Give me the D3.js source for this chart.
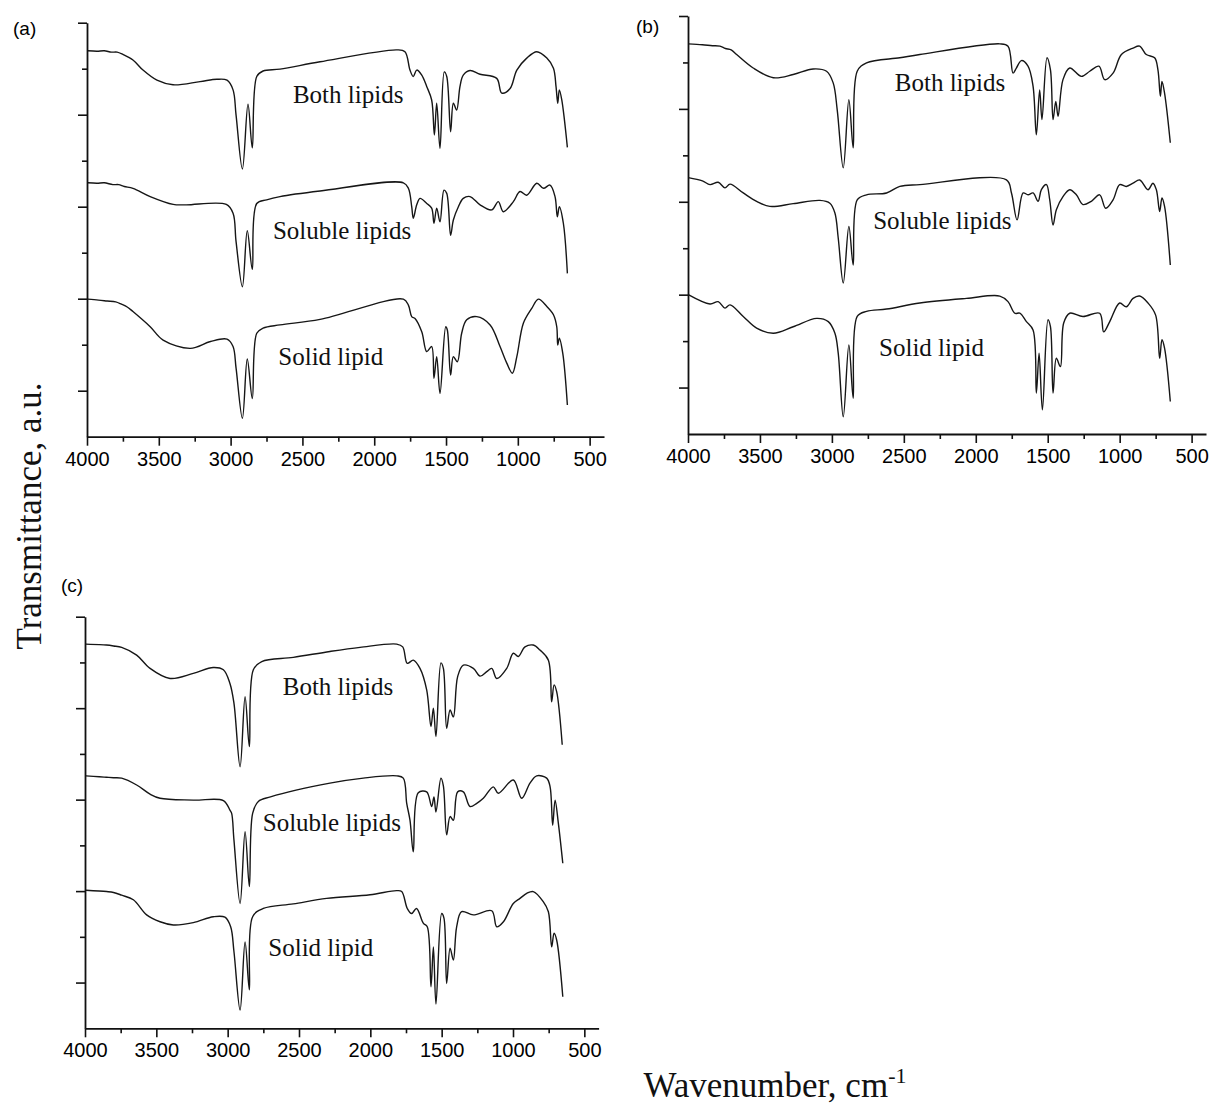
<!DOCTYPE html>
<html>
<head>
<meta charset="utf-8">
<script src="https://cdn.jsdelivr.net/npm/d3@7"></script>
<style>
  body { margin: 0; background: #fff; }
  svg { display: block; }
</style>
</head>
<body>
<div id="chart"></div>
<script>
// FTIR spectra, [wavenumber cm-1, transmittance a.u.]
// (a)
const aBoth = [[3995,8.39],[3930,8.38],[3880,8.39],[3830,8.36],[3790,8.36],[3750,8.31],[3680,8.19],[3610,7.97],[3513,7.75],[3401,7.65],[3213,7.72],[3095,7.77],[3025,7.75],[2983,7.54],[2962,6.99],[2918,5.82],[2879,7.23],[2849,6.28],[2818,7.83],[2774,7.95],[2656,7.99],[2377,8.15],[1843,8.41],[1786,8.37],[1751,7.97],[1728,7.83],[1704,7.97],[1669,7.86],[1634,7.61],[1600,7.32],[1581,6.56],[1565,7.25],[1542,6.27],[1512,7.93],[1495,7.83],[1468,6.63],[1449,7.25],[1426,7.10],[1403,7.61],[1380,7.86],[1333,7.96],[1263,7.88],[1147,7.79],[1112,7.47],[1054,7.57],[1007,7.97],[938,8.23],[868,8.37],[798,8.23],[752,8.01],[734,7.61],[722,7.25],[711,7.54],[694,7.32],[655,6.29]];
const aSoluble = [[3995,5.52],[3930,5.51],[3880,5.52],[3820,5.48],[3780,5.48],[3740,5.44],[3680,5.40],[3560,5.22],[3400,5.05],[3310,5.04],[3030,5.05],[2983,4.86],[2962,4.24],[2918,3.26],[2884,4.48],[2849,3.64],[2818,5.07],[2749,5.15],[2656,5.22],[2377,5.34],[1797,5.52],[1762,5.40],[1739,5.00],[1728,4.75],[1704,5.04],[1681,5.18],[1634,5.07],[1600,4.97],[1584,4.64],[1565,4.97],[1542,4.67],[1514,5.36],[1495,5.29],[1468,4.38],[1449,4.71],[1414,5.00],[1380,5.18],[1333,5.22],[1263,5.04],[1182,4.93],[1136,5.11],[1101,4.89],[1031,5.11],[985,5.33],[938,5.25],[868,5.51],[822,5.40],[776,5.47],[741,5.22],[725,4.78],[711,5.00],[683,4.64],[655,3.55]];
const aSolid = [[3995,2.99],[3920,2.97],[3860,2.95],[3800,2.93],[3760,2.88],[3720,2.82],[3680,2.72],[3560,2.39],[3470,2.10],[3280,1.92],[3140,2.07],[3025,2.12],[2983,1.96],[2962,1.49],[2918,0.40],[2884,1.69],[2849,0.83],[2818,2.25],[2774,2.36],[2656,2.43],[2377,2.55],[1797,2.99],[1762,2.86],[1739,2.61],[1716,2.57],[1669,2.28],[1634,1.85],[1600,1.96],[1584,1.27],[1565,1.74],[1542,0.94],[1502,2.39],[1491,2.32],[1468,1.34],[1449,1.74],[1421,1.63],[1391,2.25],[1356,2.54],[1286,2.61],[1193,2.43],[1124,1.96],[1077,1.60],[1038,1.38],[1007,1.74],[961,2.47],[903,2.79],[857,2.99],[798,2.83],[752,2.65],[729,2.39],[722,1.99],[711,2.14],[687,1.81],[655,0.69]];
// (b)
const bBoth = [[3998,8.40],[3900,8.38],[3830,8.36],[3778,8.35],[3740,8.30],[3700,8.27],[3662,8.17],[3547,7.88],[3407,7.67],[3269,7.74],[3130,7.86],[3037,7.81],[2991,7.56],[2963,6.98],[2921,5.73],[2882,7.20],[2852,6.16],[2824,7.81],[2759,7.99],[2528,8.10],[2389,8.17],[1833,8.40],[1776,8.35],[1741,7.77],[1718,7.88],[1683,8.04],[1637,7.92],[1602,7.49],[1579,6.44],[1556,7.41],[1540,6.77],[1505,8.10],[1481,7.84],[1463,6.77],[1444,7.16],[1428,6.84],[1394,7.63],[1347,7.88],[1266,7.70],[1208,7.81],[1144,7.92],[1104,7.63],[1046,7.77],[988,8.17],[907,8.31],[861,8.35],[815,8.17],[757,8.10],[734,7.84],[717,7.27],[706,7.59],[688,7.34],[648,6.27]];
const bSoluble = [[3998,5.52],[3900,5.45],[3847,5.37],[3790,5.42],[3743,5.30],[3708,5.38],[3616,5.19],[3523,5.01],[3431,4.90],[3269,4.96],[3083,5.03],[3014,4.97],[2979,4.76],[2956,4.22],[2921,3.25],[2882,4.47],[2852,3.64],[2824,5.04],[2759,5.15],[2620,5.19],[2528,5.33],[2389,5.37],[1787,5.47],[1752,5.19],[1713,4.61],[1671,5.19],[1637,5.15],[1602,5.19],[1567,5.01],[1544,5.26],[1509,5.37],[1486,5.04],[1463,4.50],[1440,4.83],[1394,5.11],[1347,5.26],[1301,5.15],[1255,4.94],[1197,5.01],[1139,5.15],[1097,4.86],[1046,5.04],[1000,5.37],[954,5.33],[907,5.40],[861,5.47],[803,5.26],[769,5.40],[745,5.26],[722,4.79],[706,5.08],[688,4.90],[648,3.64]];
const bSolid = [[3998,3.00],[3847,2.80],[3790,2.85],[3743,2.71],[3708,2.78],[3616,2.53],[3523,2.28],[3407,2.17],[3269,2.31],[3106,2.49],[3025,2.42],[2979,2.17],[2956,1.74],[2921,0.37],[2882,1.92],[2852,0.77],[2824,2.53],[2759,2.64],[2620,2.69],[2389,2.82],[2065,2.92],[1833,2.97],[1776,2.85],[1729,2.60],[1694,2.60],[1648,2.42],[1602,2.24],[1579,0.88],[1560,1.74],[1537,0.52],[1498,2.46],[1481,2.31],[1463,0.88],[1440,1.63],[1412,1.45],[1389,2.39],[1347,2.60],[1255,2.53],[1139,2.60],[1111,2.20],[1069,2.42],[1000,2.82],[954,2.74],[907,2.92],[861,2.97],[803,2.82],[750,2.56],[722,1.63],[706,2.03],[688,1.85],[648,0.70]];
// (c)
const cBoth = [[3993,8.40],[3900,8.39],[3850,8.38],[3800,8.36],[3743,8.33],[3638,8.16],[3544,7.87],[3404,7.65],[3241,7.76],[3101,7.89],[3030,7.84],[2984,7.54],[2956,7.11],[2913,5.72],[2878,7.25],[2848,6.16],[2820,7.84],[2761,8.02],[2540,8.11],[2283,8.24],[2072,8.33],[1815,8.40],[1773,8.34],[1741,7.98],[1699,8.05],[1652,7.87],[1605,7.40],[1575,6.60],[1558,7.00],[1540,6.38],[1505,7.99],[1488,7.87],[1465,6.56],[1441,6.96],[1418,6.81],[1388,7.69],[1348,7.94],[1278,7.87],[1231,7.70],[1184,7.80],[1149,7.87],[1114,7.65],[1044,7.87],[998,8.20],[963,8.13],[916,8.34],[858,8.38],[811,8.27],[752,8.05],[729,7.14],[712,7.51],[694,7.36],[655,6.20]];
const cSoluble = [[3993,5.52],[3900,5.50],[3850,5.49],[3800,5.48],[3743,5.47],[3638,5.32],[3544,5.12],[3474,5.03],[3241,4.99],[3030,4.98],[2984,4.77],[2972,4.70],[2956,4.12],[2913,2.73],[2878,4.30],[2848,3.10],[2825,4.70],[2785,4.96],[2700,5.06],[2283,5.36],[2049,5.47],[1815,5.52],[1769,5.47],[1745,4.92],[1722,4.55],[1699,3.86],[1664,5.15],[1605,5.17],[1570,4.85],[1554,5.06],[1540,4.73],[1505,5.47],[1488,5.30],[1465,4.23],[1441,4.63],[1418,4.55],[1388,5.17],[1348,5.17],[1301,4.85],[1254,4.92],[1208,5.03],[1138,5.28],[1103,5.14],[998,5.43],[939,5.03],[881,5.36],[834,5.52],[764,5.47],[740,5.28],[722,4.44],[705,4.99],[682,4.48],[651,3.61]];
const cSolid = [[3993,3.02],[3848,2.99],[3800,2.97],[3743,2.91],[3661,2.81],[3568,2.48],[3474,2.33],[3381,2.26],[3241,2.31],[3101,2.44],[3019,2.43],[2979,2.22],[2956,1.68],[2913,0.40],[2878,1.89],[2848,0.84],[2825,2.44],[2750,2.62],[2540,2.72],[2306,2.84],[2002,2.92],[1815,3.01],[1780,2.99],[1741,2.62],[1711,2.51],[1676,2.62],[1629,2.30],[1601,2.22],[1575,0.91],[1558,1.78],[1540,0.53],[1500,2.51],[1484,2.41],[1465,0.98],[1441,1.75],[1418,1.49],[1395,2.22],[1360,2.55],[1278,2.48],[1149,2.57],[1114,2.22],[1067,2.33],[998,2.73],[951,2.84],[904,2.95],[858,2.99],[788,2.77],[752,2.55],[729,1.78],[712,2.08],[694,1.93],[651,0.69]];

const seriesNames = ["Both lipids", "Soluble lipids", "Solid lipid"];
const panelTags = ["(a)", "(b)", "(c)"];
// where each curve name sits, [wavenumber, transmittance]
const aLabelAt = [[2566,7.26],[2705,4.29],[2668,1.56]];
const bLabelAt = [[2563,7.38],[2713,4.41],[2672,1.68]];
const cLabelAt = [[2614,7.29],[2754,4.32],[2715,1.58]];

const xMajorTicks = [4000, 3500, 3000, 2500, 2000, 1500, 1000, 500];
const xMinorTicks = [3750, 3250, 2750, 2250, 1750, 1250, 750];
const yMajorTicks = [1, 3, 5, 7, 9];
const yMinorTicks = [2, 4, 6, 8];

const width = 1212, height = 1109;
const svg = d3.select("#chart").append("svg")
    .attr("width", width)
    .attr("height", height)
    .style("background", "#fff");

// panel boxes in pixels
const panels = [
    {tag: panelTags[0], series: [aBoth, aSoluble, aSolid], labels: aLabelAt, left: 87, right: 604, top: 22.7, bottom: 436.7, tagX: 13, tagY: 35},
    {tag: panelTags[1], series: [bBoth, bSoluble, bSolid], labels: bLabelAt, left: 688, right: 1206, top: 16, bottom: 434, tagX: 636, tagY: 33},
    {tag: panelTags[2], series: [cBoth, cSoluble, cSolid], labels: cLabelAt, left: 85, right: 598.6, top: 616.7, bottom: 1028.3, tagX: 61, tagY: 592}
];

const serif = "'Liberation Serif', 'Times New Roman', serif";
const sans = "'Liberation Sans', Arial, sans-serif";

panels.forEach(function (p) {
    let x = d3.scaleLinear().domain([4000, 400]).range([p.left, p.right]);
    let y = d3.scaleLinear().domain([0, 9]).range([p.bottom, p.top]);

    let g = svg.append("g");

    // x axis
    let xAxis = g.append("g")
        .attr("transform", `translate(0,${p.bottom})`)
        .call(d3.axisBottom(x).tickValues(xMajorTicks).tickFormat(d3.format("d"))
            .tickSize(9).tickSizeOuter(0).tickPadding(6));
    g.append("g")
        .attr("transform", `translate(0,${p.bottom})`)
        .call(d3.axisBottom(x).tickValues(xMinorTicks).tickSize(5).tickSizeOuter(0).tickFormat(""))
        .select(".domain").remove();
    xAxis.selectAll("text")
        .attr("font-family", sans)
        .attr("font-size", 20)
        .attr("fill", "#000");

    // y axis, no labels
    g.append("g")
        .attr("transform", `translate(${p.left},0)`)
        .call(d3.axisLeft(y).tickValues(yMajorTicks).tickSize(9).tickSizeOuter(0).tickFormat(""));
    g.append("g")
        .attr("transform", `translate(${p.left},0)`)
        .call(d3.axisLeft(y).tickValues(yMinorTicks).tickSize(5).tickSizeOuter(0).tickFormat(""))
        .select(".domain").remove();

    g.selectAll(".domain").attr("stroke", "#111").attr("stroke-width", 1.8);
    g.selectAll(".tick line").attr("stroke", "#111").attr("stroke-width", 1.6);

    // spectra
    let line = d3.line()
        .x(d => x(d[0]))
        .y(d => y(d[1]))
        .curve(d3.curveCatmullRom.alpha(0.5));

    g.selectAll("path.spectrum")
        .data(p.series)
        .join("path")
        .attr("class", "spectrum")
        .attr("d", line)
        .attr("fill", "none")
        .attr("stroke", "#161616")
        .attr("stroke-width", 1.4)
        .attr("stroke-linejoin", "round");

    // curve names
    g.selectAll("text.name")
        .data(p.labels)
        .join("text")
        .attr("class", "name")
        .attr("x", d => x(d[0]))
        .attr("y", d => y(d[1]))
        .attr("font-family", serif)
        .attr("font-size", 25)
        .attr("fill", "#111")
        .text((d, i) => seriesNames[i]);

    // panel tag
    g.append("text")
        .attr("x", p.tagX)
        .attr("y", p.tagY)
        .attr("font-family", sans)
        .attr("font-size", 19)
        .attr("fill", "#000")
        .text(p.tag);
});

// axis titles
svg.append("text")
    .attr("transform", "translate(41,516) rotate(-90)")
    .attr("text-anchor", "middle")
    .attr("font-family", serif)
    .attr("font-size", 35)
    .attr("fill", "#111")
    .text("Transmittance, a.u.");

let xt = svg.append("text")
    .attr("x", 775)
    .attr("y", 1097)
    .attr("text-anchor", "middle")
    .attr("font-family", serif)
    .attr("font-size", 35)
    .attr("fill", "#111");
xt.append("tspan").text("Wavenumber, cm");
xt.append("tspan").attr("font-size", 22).attr("dy", -14).text("-1");
</script>
</body>
</html>
